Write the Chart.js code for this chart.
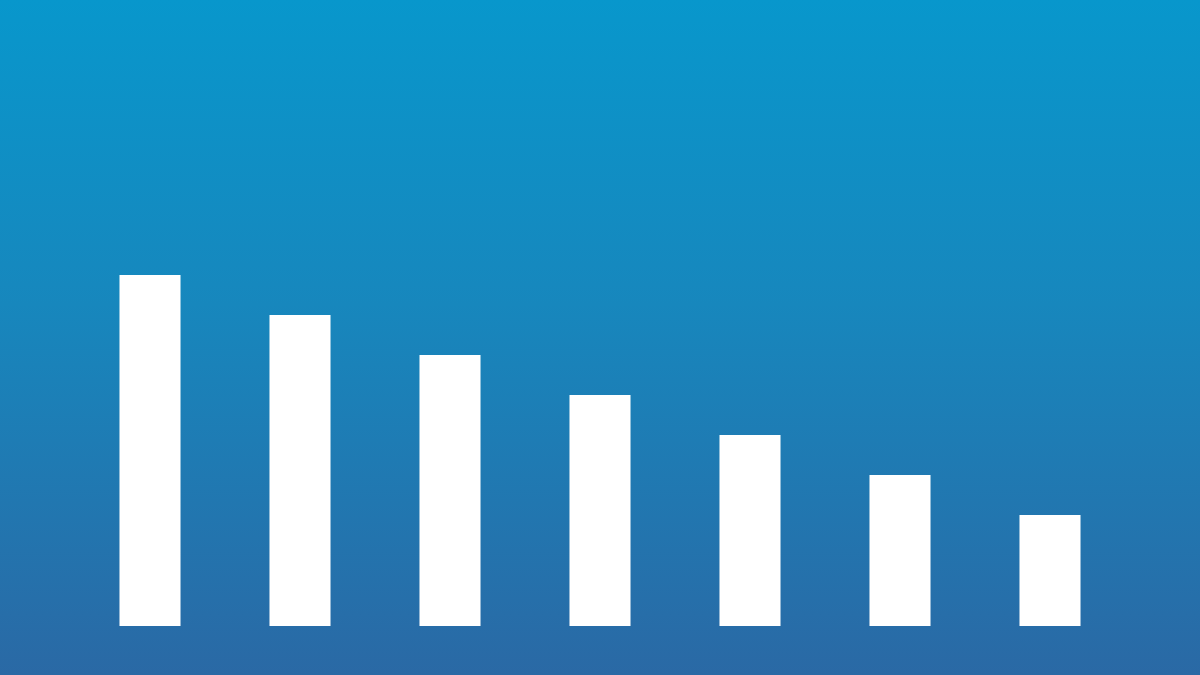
<!DOCTYPE html>
<html>
<head>
<meta charset="utf-8">
<script src="https://cdn.jsdelivr.net/npm/chart.js@4/dist/chart.umd.min.js"></script>
<style>
  html, body { margin: 0; padding: 0; }
  body {
    width: 1200px;
    height: 675px;
    background: linear-gradient(to bottom, #0897cc 0%, #1787bd 45%, #2a69a5 100%);
    overflow: hidden;
  }
  #wrap { position: relative; width: 1200px; height: 675px; }
</style>
</head>
<body>
<div id="wrap"><canvas id="chart"></canvas></div>
<script>
const categories = ['1', '2', '3', '4', '5', '6', '7'];
const values = [87.75, 77.75, 67.75, 57.75, 47.75, 37.75, 27.75];

const ctx = document.getElementById('chart');

new Chart(ctx, {
  type: 'bar',
  data: {
    labels: categories,
    datasets: [{
      data: values,
      backgroundColor: '#ffffff',
      hoverBackgroundColor: '#ffffff',
      borderWidth: 0,
      barPercentage: 0.407,
      categoryPercentage: 1,
    }],
  },
  options: {
    responsive: true,
    maintainAspectRatio: false,
    animation: false,
    layout: {
      padding: { left: 75, right: 75, top: 226, bottom: 49 },
    },
    plugins: {
      legend: { display: false },
      tooltip: { enabled: false },
    },
    scales: {
      x: { display: false },
      y: { display: false, min: 0, max: 100 },
    },
  },
});
</script>
</body>
</html>
